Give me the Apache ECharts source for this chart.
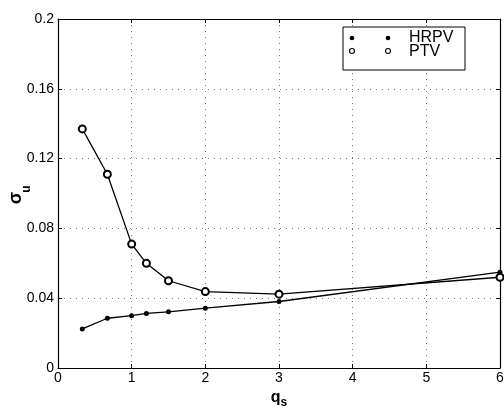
<!DOCTYPE html>
<html><head><meta charset="utf-8">
<script src="https://cdn.jsdelivr.net/npm/echarts@6/dist/echarts.min.js"></script>
<style>html,body{margin:0;padding:0;background:#fff}#c{width:504px;height:411px}</style>
</head><body><div id="c"></div>
<script>
var qs = [0.33, 0.67, 1.0, 1.2, 1.5, 2.0, 3.0, 6.0];
var hrpv = [0.0224, 0.0285, 0.0300, 0.0313, 0.0322, 0.0343, 0.0381, 0.0549];
var ptv = [0.137, 0.111, 0.071, 0.060, 0.050, 0.0438, 0.0423, 0.052];
var xTicks = [0, 1, 2, 3, 4, 5, 6];
var yTicks = [0, 0.04, 0.08, 0.12, 0.16, 0.2];
var seriesNames = ['HRPV', 'PTV'];

function pairs(xs, ys){ return xs.map(function(x,i){ return [x, ys[i]]; }); }
var FONT = 'Liberation Sans, Arial, sans-serif';
var chart = echarts.init(document.getElementById('c'), null, {renderer:'canvas'});
var gridLine = {show:true, lineStyle:{color:'#777', type:[1,5], width:1}};
chart.setOption({
  animation:false,
  backgroundColor:'#fff',
  grid:{left:58, right:4, top:19, bottom:43, containLabel:false, outerBoundsMode:'none'},
  xAxis:[{
    type:'value', min:xTicks[0], max:xTicks[xTicks.length-1], interval:1,
    axisLine:{show:true, onZero:false, lineStyle:{color:'#000', width:1.2}},
    axisTick:{show:true, inside:true, length:4, lineStyle:{color:'#000'}},
    axisLabel:{color:'#000', fontSize:14, fontFamily:FONT, margin:3},
    splitLine:gridLine,
    name:'{a|q}{b|s}', nameLocation:'middle', nameGap:13,
    nameTextStyle:{rich:{a:{fontSize:16, fontFamily:FONT, color:'#000', fontWeight:'bold'}, b:{fontSize:12, fontFamily:FONT, color:'#000', padding:[10,0,0,0], fontWeight:'bold'}}}
  },{
    type:'value', position:'top', min:0, max:6, interval:1,
    axisLine:{show:true, onZero:false, lineStyle:{color:'#000', width:1.2}},
    axisTick:{show:true, inside:true, length:4, lineStyle:{color:'#000'}},
    axisLabel:{show:false}, splitLine:{show:false}
  }],
  yAxis:[{
    type:'value', min:yTicks[0], max:yTicks[yTicks.length-1], interval:0.04,
    axisLine:{show:true, onZero:false, lineStyle:{color:'#000', width:1.2}},
    axisTick:{show:true, inside:true, length:4, lineStyle:{color:'#000'}},
    axisLabel:{color:'#000', fontSize:14, fontFamily:FONT, margin:4,
      formatter:function(v){ return String(parseFloat(v.toFixed(2))); }},
    splitLine:gridLine
  },{
    type:'value', position:'right', min:0, max:0.2, interval:0.04,
    axisLine:{show:true, onZero:false, lineStyle:{color:'#000', width:1.2}},
    axisTick:{show:true, inside:true, length:4, lineStyle:{color:'#000'}},
    axisLabel:{show:false}, splitLine:{show:false}
  }],
  series:[{
    name:seriesNames[0], type:'line', data:pairs(qs, hrpv),
    symbol:'circle', symbolSize:5, showAllSymbol:true,
    itemStyle:{color:'#000'}, lineStyle:{color:'#000', width:1.3}
  },{
    name:seriesNames[1], type:'line', data:pairs(qs, ptv),
    symbol:'emptyCircle', symbolSize:7, showAllSymbol:true,
    itemStyle:{color:'#000', borderColor:'#000', borderWidth:1.1}, lineStyle:{color:'#000', width:1.3}
  }],
  graphic:[
    {type:'text', x:16, y:198, rotation:Math.PI/2, style:{text:'σ', fill:'#000', font:'bold 18px '+FONT, textAlign:'center', textVerticalAlign:'middle'}, z:101},
    {type:'text', x:27, y:189, rotation:Math.PI/2, style:{text:'u', fill:'#000', font:'bold 12px '+FONT, textAlign:'center', textVerticalAlign:'middle'}, z:101},
    {type:'rect', shape:{x:343, y:27, width:122, height:43}, style:{fill:'#fff', stroke:'#000', lineWidth:1}, z:100},
    {type:'circle', shape:{cx:352, cy:38, r:2.3}, style:{fill:'#000'}, z:101},
    {type:'circle', shape:{cx:388, cy:38, r:2.3}, style:{fill:'#000'}, z:101},
    {type:'circle', shape:{cx:352, cy:51, r:2.5}, style:{fill:'#fff', stroke:'#000', lineWidth:1.1}, z:101},
    {type:'circle', shape:{cx:388, cy:51, r:2.5}, style:{fill:'#fff', stroke:'#000', lineWidth:1.1}, z:101},
    {type:'text', x:409, y:38, style:{text:seriesNames[0], fill:'#000', font:'16px '+FONT, textVerticalAlign:'middle'}, z:101},
    {type:'text', x:409, y:52, style:{text:seriesNames[1], fill:'#000', font:'16px '+FONT, textVerticalAlign:'middle'}, z:101}
  ]
});
</script></body></html>
